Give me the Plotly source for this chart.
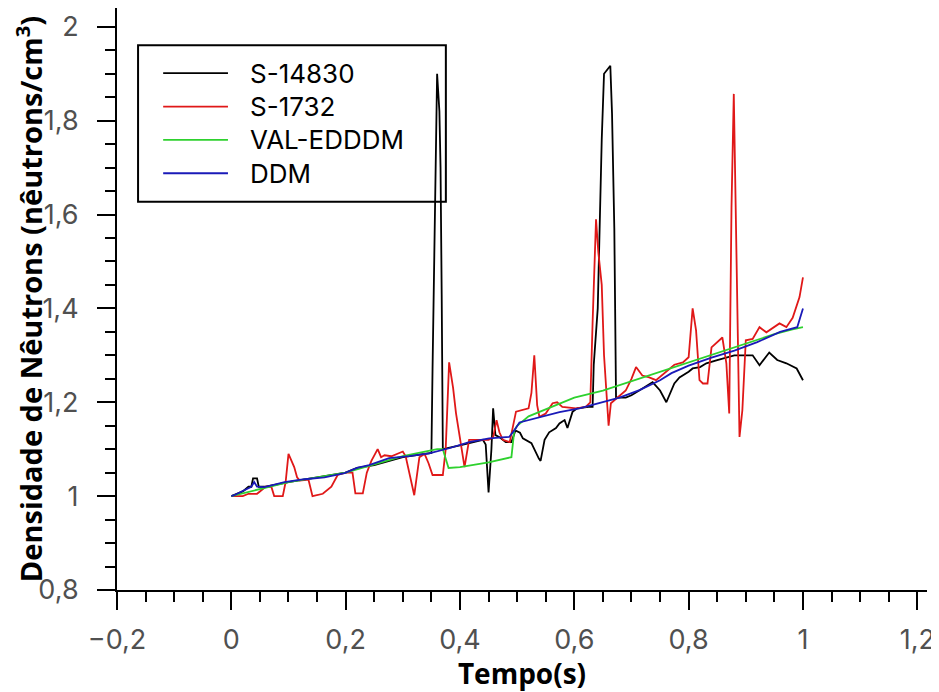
import plotly.graph_objects as go

# S-14830 (black)
t_s14830 = [0, 0.01, 0.02, 0.03, 0.035, 0.038, 0.045, 0.048, 0.06, 0.1, 0.15, 0.2, 0.22, 0.25, 0.3,
            0.35, 0.352, 0.356, 0.36, 0.364, 0.366, 0.368, 0.37, 0.4, 0.44, 0.445, 0.45, 0.455, 0.458,
            0.462, 0.47, 0.48, 0.49, 0.497, 0.505, 0.51, 0.525, 0.538, 0.541, 0.548, 0.556, 0.568,
            0.574, 0.583, 0.588, 0.597, 0.605, 0.625, 0.632, 0.634, 0.641, 0.648, 0.652, 0.663,
            0.666, 0.67, 0.673, 0.69, 0.7, 0.72, 0.737, 0.75, 0.761, 0.775, 0.784, 0.8, 0.807, 0.82,
            0.831, 0.85, 0.866, 0.88, 0.912, 0.924, 0.941, 0.955, 0.971, 0.989, 1.0]
y_s14830 = [1.0, 1.005, 1.01, 1.02, 1.02, 1.038, 1.038, 1.02, 1.02, 1.03, 1.04, 1.05, 1.06, 1.066, 1.083,
            1.092, 1.27, 1.55, 1.9, 1.82, 1.7, 1.43, 1.1, 1.108, 1.12, 1.11, 1.008, 1.1, 1.187,
            1.13, 1.125, 1.115, 1.115, 1.14, 1.135, 1.123, 1.113, 1.08, 1.075, 1.12, 1.136, 1.145,
            1.155, 1.162, 1.145, 1.18, 1.187, 1.19, 1.19, 1.28, 1.4, 1.76, 1.9, 1.917,
            1.815, 1.57, 1.21, 1.21, 1.215, 1.23, 1.243, 1.225, 1.2, 1.24, 1.253, 1.265, 1.272, 1.275,
            1.283, 1.29, 1.296, 1.3, 1.3, 1.279, 1.306, 1.29, 1.283, 1.272, 1.247]

# S-1732 (red)
t_s1732 = [0, 0.02, 0.03, 0.045, 0.05, 0.06, 0.07, 0.075, 0.09, 0.095, 0.1, 0.105, 0.11, 0.115, 0.12,
           0.135, 0.142, 0.16, 0.175, 0.186, 0.2, 0.212, 0.217, 0.23, 0.237, 0.245, 0.256, 0.262,
           0.268, 0.28, 0.29, 0.3, 0.305, 0.32, 0.329, 0.338, 0.345, 0.352, 0.37, 0.375, 0.381,
           0.388, 0.393, 0.399, 0.408, 0.416, 0.45, 0.458, 0.464, 0.469, 0.475, 0.487, 0.498, 0.52,
           0.525, 0.53, 0.535, 0.539, 0.55, 0.562, 0.57, 0.579, 0.603, 0.62, 0.628, 0.632, 0.638,
           0.642, 0.648, 0.652, 0.656, 0.66, 0.664, 0.673, 0.69, 0.7, 0.708, 0.719, 0.731, 0.743,
           0.76, 0.775, 0.79, 0.8, 0.807, 0.813, 0.819, 0.825, 0.833, 0.84, 0.859, 0.866, 0.871,
           0.875, 0.879, 0.882, 0.886, 0.889, 0.894, 0.9, 0.912, 0.924, 0.936, 0.959, 0.971, 0.982,
           0.994, 1.0]
y_s1732 = [1.0, 1.0, 1.005, 1.005, 1.01, 1.02, 1.02, 1.0, 1.0, 1.03, 1.09, 1.075, 1.062, 1.04, 1.033,
           1.035, 1.0, 1.005, 1.02, 1.045, 1.05, 1.05, 1.006, 1.006, 1.05, 1.075, 1.1, 1.083,
           1.087, 1.085, 1.09, 1.095, 1.085, 1.002, 1.083, 1.09, 1.07, 1.045, 1.045, 1.1, 1.285,
           1.23, 1.177, 1.134, 1.062, 1.12, 1.12, 1.125, 1.162, 1.136, 1.12, 1.115, 1.18, 1.187,
           1.22, 1.3, 1.194, 1.169, 1.176, 1.198, 1.2, 1.19, 1.187, 1.19, 1.2, 1.37, 1.59,
           1.52, 1.45, 1.3, 1.225, 1.15, 1.198, 1.208, 1.225, 1.25, 1.275, 1.257, 1.253, 1.247,
           1.265, 1.28, 1.285, 1.296, 1.4, 1.353, 1.247, 1.24, 1.24, 1.317, 1.338, 1.283, 1.176,
           1.615, 1.857, 1.62, 1.31, 1.126, 1.183, 1.332, 1.335, 1.36, 1.349, 1.368, 1.36, 1.38,
           1.424, 1.466]

# VAL-EDDDM (green)
t_val = [0, 0.05, 0.1, 0.2, 0.3, 0.36, 0.37, 0.38, 0.4, 0.45, 0.49, 0.495, 0.5, 0.52, 0.55, 0.6,
         0.65, 0.7, 0.75, 0.8, 0.85, 0.9, 0.95, 0.98, 1.0]
y_val = [1.0, 1.015, 1.03, 1.05, 1.085, 1.1, 1.1, 1.06, 1.062, 1.072, 1.083, 1.14, 1.15, 1.17, 1.185, 1.21,
         1.225, 1.245, 1.265, 1.285, 1.305, 1.325, 1.345, 1.355, 1.36]

# DDM (blue)
t_ddm = [0, 0.005, 0.035, 0.04, 0.045, 0.058, 0.093, 0.128, 0.163, 0.198, 0.22, 0.241, 0.276, 0.311,
         0.346, 0.381, 0.416, 0.451, 0.486, 0.495, 0.504, 0.539, 0.574, 0.609, 0.644, 0.679, 0.714,
         0.75, 0.77, 0.8, 0.84, 0.88, 0.92, 0.96, 0.99, 1.0]
y_ddm = [1.0, 1.002, 1.02, 1.03, 1.02, 1.019, 1.03, 1.036, 1.04, 1.049, 1.06, 1.066, 1.081, 1.085,
         1.091, 1.102, 1.115, 1.123, 1.126, 1.14, 1.157, 1.168, 1.179, 1.187, 1.198, 1.21, 1.226,
         1.247, 1.262, 1.278, 1.295, 1.31, 1.328, 1.35, 1.36, 1.4]

series = [
    ('S-14830', t_s14830, y_s14830, '#000000'),
    ('S-1732', t_s1732, y_s1732, '#e01818'),
    ('VAL-EDDDM', t_val, y_val, '#2ed12e'),
    ('DDM', t_ddm, y_ddm, '#1a1ab8'),
]

fig = go.Figure()
for name, t, y, color in series:
    fig.add_trace(go.Scatter(x=t, y=y, name=name, mode='lines', showlegend=False,
                             line=dict(color=color, width=1.8)))

# boxed legend in paper coordinates, under the traces (the spike crosses it)
fig.add_shape(type='rect', xref='paper', yref='paper', x0=0.026, x1=0.406, y0=0.667, y1=0.936,
              line=dict(color='black', width=2), layer='below')
for i, (name, t, y, color) in enumerate(series):
    ly = 0.888 - i * 0.0573
    fig.add_shape(type='line', xref='paper', yref='paper', x0=0.057, x1=0.137, y0=ly, y1=ly,
                  line=dict(color=color, width=1.8), layer='below')
    fig.add_annotation(text=name, xref='paper', yref='paper', x=0.162, y=ly,
                       xanchor='left', yanchor='middle', showarrow=False,
                       font=dict(family='Inter, Open Sans, sans-serif', size=26, color='black'))

tick_font = 'Inter, Open Sans, sans-serif'
title_font = 'Open Sans, Noto Sans, sans-serif'
axis_common = dict(
    showline=True, linecolor='black', linewidth=2,
    ticks='outside', ticklen=18, tickwidth=2, tickcolor='black',
    showgrid=False, zeroline=False,
    tickfont=dict(family=tick_font, size=27, color='#505050'),
    dtick=0.2, tick0=0,
    minor=dict(ticks='outside', ticklen=10, tickwidth=2, tickcolor='black', dtick=0.05),
)

fig.update_xaxes(range=[-0.2, 1.217], ticklabelstandoff=7,
                 title=dict(text='<b>Tempo(s)</b>', font=dict(family=title_font, size=28, color='black'),
                            standoff=8),
                 **axis_common)
fig.update_yaxes(range=[0.8, 2.04], ticklabelstandoff=13,
                 title=dict(text='<b>Densidade de Nêutrons (nêutrons/cm<sup>3</sup>)</b>',
                            font=dict(family=title_font, size=29, color='black'), standoff=0),
                 **axis_common)

# page adds an 8px body margin, so the figure is sized to fit the window
fig.update_layout(
    width=931, height=684,
    margin=dict(l=109, r=12, t=0, b=102, autoexpand=False),
    plot_bgcolor='white', paper_bgcolor='white',
    separators=', ',
)

fig.write_html('out.html')
